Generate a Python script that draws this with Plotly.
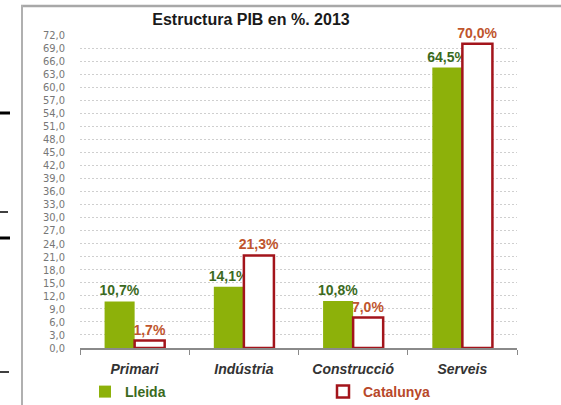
import plotly.graph_objects as go

categories = ["Primari", "Indústria", "Construcció", "Serveis"]
lleida = [10.7, 14.1, 10.8, 64.5]
catalunya = [1.7, 21.3, 7.0, 70.0]
y_ticks = [i * 3 for i in range(25)]

W, H = 561, 405
ML, MR, MT, MB = 80, 44, 35, 57

fig = go.Figure()
fig.add_trace(go.Bar(
    x=categories, y=lleida, name="<span style='color:#3b6a1e'><b>Lleida</b></span>",
    marker=dict(color="#8db10a", line=dict(width=0)),
    texttemplate="<b>%{y:.1f}%</b>", textposition="outside", constraintext="none",
    textfont=dict(color="#3b6a1e", size=14, family="Liberation Sans"),
    cliponaxis=False, legend="legend",
))
fig.add_trace(go.Bar(
    x=categories, y=catalunya, name="<span style='color:#b8482a'><b>Catalunya</b></span>",
    marker=dict(color="white", line=dict(color="#a3141b", width=2.5)),
    texttemplate="<b>%{y:.1f}%</b>", textposition="outside", constraintext="none",
    textfont=dict(color="#c0552d", size=14, family="Liberation Sans"),
    cliponaxis=False, legend="legend2",
))

def px2paper_x(px):
    return (px - ML) / (W - ML - MR)

def px2paper_y(py):
    return (H - MB - py) / (H - MT - MB)

shapes = [
    dict(type="line", xref="paper", yref="paper", x0=px2paper_x(21), x1=px2paper_x(561),
         y0=px2paper_y(6), y1=px2paper_y(6), line=dict(color="#a8a8a8", width=2.5)),
    dict(type="line", xref="paper", yref="paper", x0=px2paper_x(22), x1=px2paper_x(22),
         y0=px2paper_y(5), y1=px2paper_y(405), line=dict(color="#b0b0b0", width=2)),
]
for py, w, x1 in [(113, 3, 10), (212, 1.5, 8), (238, 3, 10), (372, 1.5, 9)]:
    shapes.append(dict(type="line", xref="paper", yref="paper", x0=px2paper_x(0), x1=px2paper_x(x1),
                       y0=px2paper_y(py), y1=px2paper_y(py), line=dict(color="black", width=w)))

legend_common = dict(orientation="h", yanchor="middle", y=px2paper_y(392),
                     xanchor="left", font=dict(size=14, family="Liberation Sans"),
                     itemwidth=30, bgcolor="rgba(0,0,0,0)")

fig.update_layout(
    width=W, height=H,
    margin=dict(l=ML, r=MR, t=MT, b=MB, autoexpand=False),
    paper_bgcolor="white", plot_bgcolor="white",
    separators=",.",
    barmode="group", bargap=0.45, bargroupgap=0,
    font=dict(family="Liberation Sans, Arial, sans-serif"),
    title=dict(text="<b>Estructura PIB en %. 2013</b>", x=251 / W, xref="container",
               xanchor="center", y=1 - 19 / H, yanchor="middle",
               font=dict(size=16, color="#1a1a1a")),
    showlegend=True,
    legend=dict(x=px2paper_x(85), **legend_common),
    legend2=dict(x=px2paper_x(323), **legend_common),
    shapes=shapes,
)
fig.update_xaxes(
    tickvals=categories,
    ticktext=[f"<b><i>{c}</i></b>" for c in categories],
    tickfont=dict(size=14, color="#333", family="Liberation Sans"),
    showline=True, linecolor="#8a8a8a", linewidth=1.5,
    ticks="outside", tickson="boundaries", ticklen=5, tickcolor="#8a8a8a",
    showgrid=False, ticklabelstandoff=7,
)
fig.update_yaxes(
    range=[0, 72], tickvals=y_ticks, tickformat=".1f",
    tickfont=dict(size=11, color="#777", family="DejaVu Sans Condensed"),
    showgrid=True, gridcolor="#cfcfcf", griddash="2px,2px", gridwidth=1,
    showline=False, zeroline=False, ticks="", ticklabelstandoff=14,
)
fig.write_html("out.html", post_script="document.body.style.margin='0px';",
               config={"displayModeBar": False})
